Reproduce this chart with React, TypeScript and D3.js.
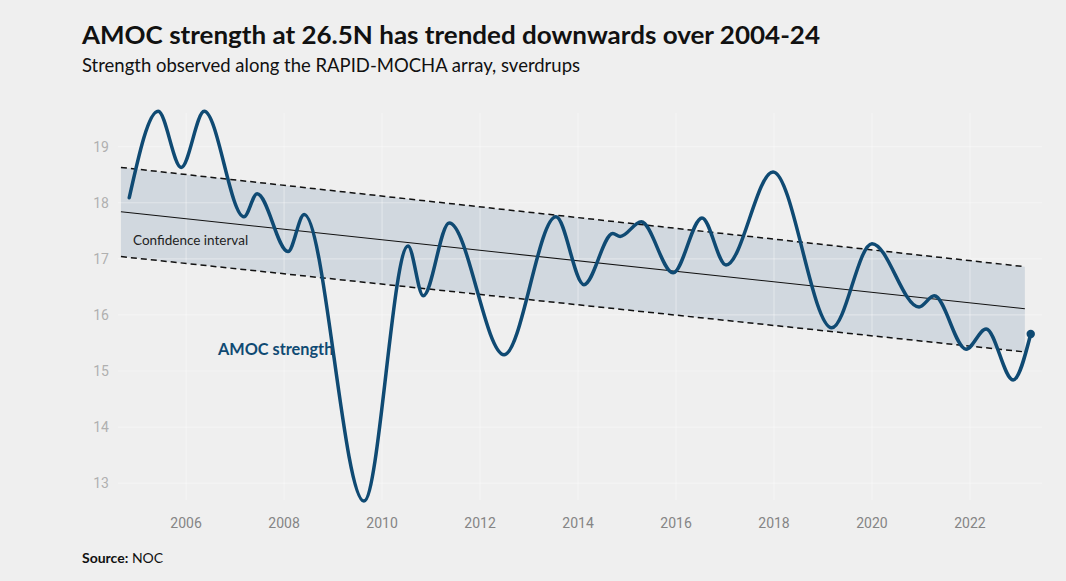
import React, { useEffect } from "react";
import * as d3 from "d3";

const amocYears = [
  2004.84, 2005.43, 2005.9, 2006.37, 2007.18, 2007.45, 2008.08, 2008.41, 2009.63,
  2010.53, 2010.84, 2011.37, 2012.49, 2013.55, 2014.12, 2014.71, 2014.86, 2015.29,
  2015.94, 2016.53, 2017.02, 2017.98, 2019.18, 2020.0, 2020.96, 2021.27, 2021.92,
  2022.33, 2022.88, 2023.24,
];
const amocValues = [
  18.09, 19.63, 18.63, 19.63, 17.75, 18.16, 17.13, 17.79, 12.68,
  17.23, 16.34, 17.64, 15.29, 17.75, 16.54, 17.45, 17.4, 17.66,
  16.75, 17.73, 16.89, 18.55, 15.77, 17.27, 16.14, 16.34, 15.39,
  15.75, 14.84, 15.66,
];

const trendYears = [2004.67, 2023.12];
const trendCentre = [17.84, 16.11];
const trendUpper = [18.63, 16.86];
const trendLower = [17.04, 15.34];

const yTicks = [13, 14, 15, 16, 17, 18, 19];
const xTicks = [2006, 2008, 2010, 2012, 2014, 2016, 2018, 2020, 2022];

const W = 1066;
const H = 581;
const BG = "#efefef";
const NAVY = "#0f4a73";
const TEXT_FONT = "Lato, 'Noto Sans', sans-serif";
const TICK_FONT = "Roboto, sans-serif";

export default function App() {
  useEffect(() => {
    document.body.style.margin = "0";
    document.body.style.background = BG;
  }, []);

  const x = d3.scaleLinear().domain([2004.61, 2023.47]).range([118, 1042]);
  const y = d3.scaleLinear().domain([12.7, 19.6]).range([500, 113]);

  const amoc = amocYears.map((yr, i) => [yr, amocValues[i]] as [number, number]);
  const linePath = d3
    .line<[number, number]>()
    .x((d) => x(d[0]))
    .y((d) => y(d[1]))
    .curve(d3.curveMonotoneX)(amoc) as string;

  const bandPath = d3
    .area<number>()
    .x((d) => x(trendYears[d]))
    .y0((d) => y(trendLower[d]))
    .y1((d) => y(trendUpper[d]))([0, 1]) as string;

  const simpleLine = (vals: number[]) =>
    d3
      .line<number>()
      .x((d) => x(trendYears[d]))
      .y((d) => y(vals[d]))([0, 1]) as string;

  const last = amoc[amoc.length - 1];
  const [x0, x1] = x.range();
  const [yb, yt] = y.range();

  return (
    <svg width={W} height={H} style={{ display: "block", background: BG }}>
      <rect x={0} y={0} width={W} height={H} fill={BG} />

      <path d={bandPath} fill="#d1d8df" />

      {yTicks.map((t) => (
        <line key={"gy" + t} x1={x0} x2={x1} y1={y(t)} y2={y(t)} stroke="#ffffff" strokeOpacity={0.35} strokeWidth={1.2} />
      ))}
      {xTicks.map((t) => (
        <line key={"gx" + t} x1={x(t)} x2={x(t)} y1={yt} y2={yb} stroke="#ffffff" strokeOpacity={0.35} strokeWidth={1.2} />
      ))}

      {yTicks.map((t) => (
        <text key={"ty" + t} x={109} y={y(t)} dy="0.35em" textAnchor="end" fontFamily={TICK_FONT} fontSize={14} fill="#b0b0b0">
          {t}
        </text>
      ))}
      {xTicks.map((t) => (
        <text key={"tx" + t} x={x(t)} y={528} textAnchor="middle" fontFamily={TICK_FONT} fontSize={14} fill="#858585">
          {t}
        </text>
      ))}

      <path d={simpleLine(trendUpper)} fill="none" stroke="#111" strokeWidth={1.5} strokeDasharray="6,4" />
      <path d={simpleLine(trendLower)} fill="none" stroke="#111" strokeWidth={1.5} strokeDasharray="6,4" />
      <path d={simpleLine(trendCentre)} fill="none" stroke="#111" strokeWidth={1.1} />

      <path d={linePath} fill="none" stroke={NAVY} strokeWidth={3.5} strokeLinecap="round" strokeLinejoin="round" />
      <circle cx={x(last[0])} cy={y(last[1])} r={4.2} fill={NAVY} />

      <text x={133} y={245} fontFamily={TEXT_FONT} fontSize={13.5} fill="#222">
        Confidence interval
      </text>
      <text x={218} y={355} fontFamily={TEXT_FONT} fontSize={16.3} fontWeight={700} fill={NAVY}>
        AMOC strength
      </text>

      <text x={82} y={44} fontFamily={TEXT_FONT} fontSize={25} fontWeight={700} fill="#111" textLength={738} lengthAdjust="spacingAndGlyphs">
        AMOC strength at 26.5N has trended downwards over 2004-24
      </text>
      <text x={82} y={72} fontFamily={TEXT_FONT} fontSize={19} fill="#111" textLength={498} lengthAdjust="spacingAndGlyphs">
        Strength observed along the RAPID-MOCHA array, sverdrups
      </text>

      <text x={82} y={563} fontFamily={TEXT_FONT} fontSize={14} fill="#111">
        <tspan fontWeight={700}>Source:</tspan> NOC
      </text>
    </svg>
  );
}
